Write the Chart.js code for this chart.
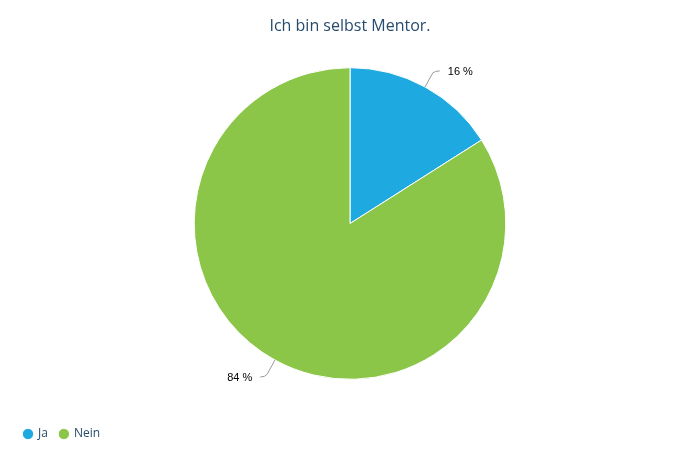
<!DOCTYPE html>
<html>
<head>
<meta charset="utf-8">
<script src="https://cdn.jsdelivr.net/npm/chart.js@4"></script>
<style>
  html, body { margin:0; padding:0; background:#fff; }
  #wrap { width:700px; height:464px; position:relative; }
</style>
</head>
<body>
<div id="wrap"><canvas id="c"></canvas></div>
<script>
// Data
const TITLE = 'Ich bin selbst Mentor.';
const labels = ['Ja', 'Nein'];
const values = [16, 84];
const colors = ['#1eaae1', '#8bc648'];

// Labels with connector lines, Highcharts-like
const sliceLabels = {
  id: 'sliceLabels',
  afterDatasetsDraw(chart){
    const ctx = chart.ctx;
    const meta = chart.getDatasetMeta(0);
    ctx.save();
    ctx.font = '11px "Liberation Sans", Arial, sans-serif';
    ctx.fillStyle = '#000';
    ctx.strokeStyle = '#999';
    ctx.lineWidth = 1;
    ctx.textBaseline = 'middle';
    meta.data.forEach((arc, i)=>{
      const p = arc.getProps(['x','y','startAngle','endAngle','outerRadius'], true);
      const mid = (p.startAngle + p.endAngle) / 2;
      const cos = Math.cos(mid), sin = Math.sin(mid);
      const right = cos >= 0;
      const ex = p.x + cos * p.outerRadius, ey = p.y + sin * p.outerRadius;
      const bx = p.x + cos * (p.outerRadius + 16), by = p.y + sin * (p.outerRadius + 16);
      const tx = bx + (right ? 7 : -7), ty = by + (sin < 0 ? -2 : 3);
      ctx.beginPath();
      ctx.moveTo(ex, ey);
      ctx.lineTo(bx, by);
      ctx.quadraticCurveTo(bx + (right ? 2 : -2), ty, tx, ty);
      ctx.stroke();
      ctx.textAlign = right ? 'left' : 'right';
      ctx.fillText(values[i] + ' %', tx + (right ? 8 : -8), ty + 1);
    });
    ctx.restore();
  }
};

new Chart(document.getElementById('c'), {
  type: 'pie',
  data: {
    labels,
    datasets: [{
      data: values,
      backgroundColor: colors,
      borderColor: '#fff',
      borderWidth: 1,
      hoverOffset: 0
    }]
  },
  options: {
    responsive: true,
    maintainAspectRatio: false,
    animation: false,
    layout: { padding: { top: 0, bottom: 14, left: 12, right: 12 } },
    plugins: {
      title: {
        display: true,
        text: TITLE,
        color: '#274b6d',
        font: { family: '"Open Sans", sans-serif', size: 16, weight: 'normal' },
        padding: { top: 17, bottom: 31 }
      },
      legend: {
        position: 'bottom',
        align: 'start',
        title: {
          display: true,
          text: ' ',
          font: { size: 1 },
          padding: { top: 0, bottom: 35 }
        },
        labels: {
          usePointStyle: true,
          pointStyle: 'circle',
          boxWidth: 8,
          boxHeight: 8,
          color: '#274b6d',
          font: { family: '"Open Sans", sans-serif', size: 12 },
          padding: 12
        }
      },
      tooltip: { enabled: false }
    }
  },
  plugins: [sliceLabels]
});
</script>
</body>
</html>
